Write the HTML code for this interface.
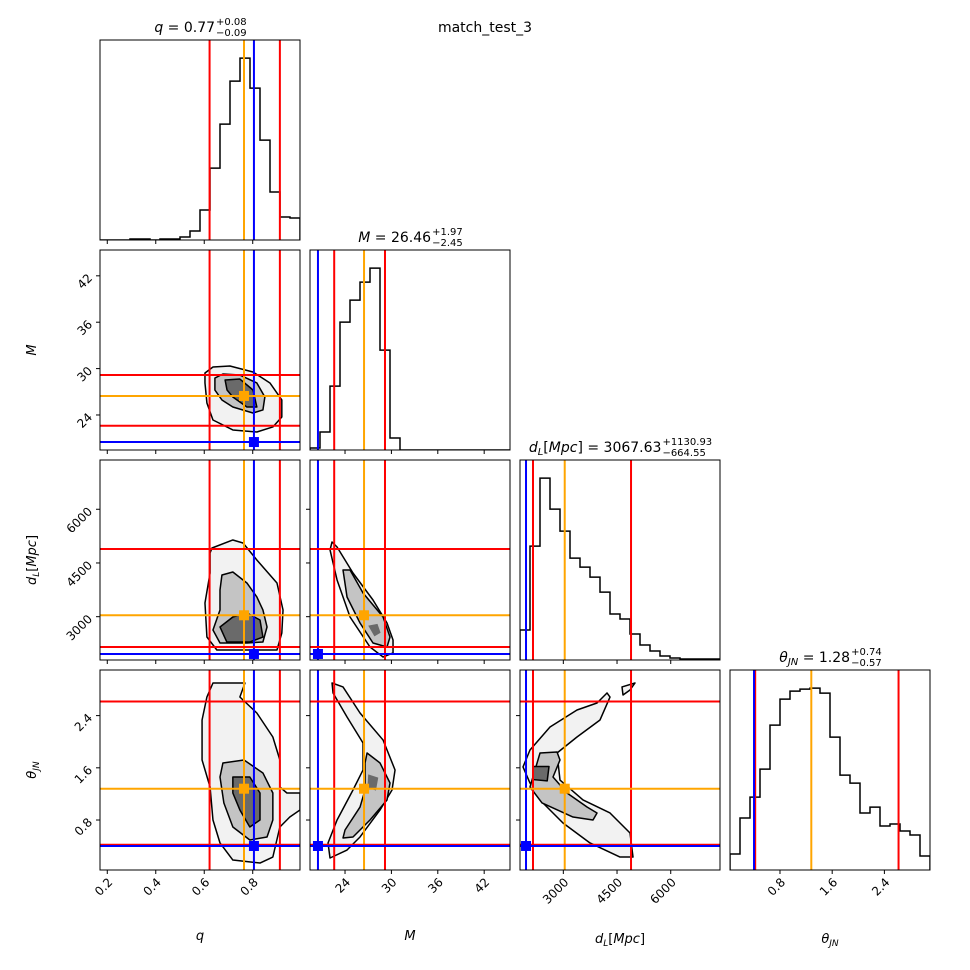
<!DOCTYPE html>
<html><head><meta charset="utf-8"><style>
body{margin:0;background:#fff}
svg{display:block;font-family:"DejaVu Sans","Liberation Sans",sans-serif}
</style></head><body>
<svg id="fig" width="970" height="970" viewBox="0 0 970 970" xmlns="http://www.w3.org/2000/svg"></svg>
<script>
// ---- data ----
const params = ["q","M","dL","th"];
const rangeQ = [0.170, 0.995];
const rangeM = [19.47, 45.34];
const rangeD = [1790, 7376];
const rangeT = [0.034, 3.099];
const histQ = [0,0,0,1,1,0,1,1,3,9,30,72,116,159,182,152,100,48,23,22];
const histM = [2,18,64,128,150,168,182,100,12,0,0,0,0,0,0,0,0,0,0,0];
const histD = [30,114,182,151,129,102,93,83,68,46,41,26,15,9,4,2,1,1,1,1];
const histT = [16,52,73,101,145,171,179,181,182,177,133,95,87,57,63,44,46,39,35,14];
const ticksQ = [0.2,0.4,0.6,0.8];
const ticksM = [24,30,36,42];
const ticksD = [3000,4500,6000];
const ticksT = [0.8,1.6,2.4];
const tickLabQ = ["0.2","0.4","0.6","0.8"];
const tickLabM = ["24","30","36","42"];
const tickLabD = ["3000","4500","6000"];
const tickLabT = ["0.8","1.6","2.4"];
const medians = [0.764, 26.46, 3039, 1.28];
const truths = [0.805, 20.5, 1958, 0.402];
const lowers = [0.622, 22.6, 2153, 0.42];
const uppers = [0.912, 29.17, 4891, 2.617];
// contours [x,y] in data units, per panel, outer -> inner
const contQM = [
 [[0.603,29.43],[0.636,30.21],[0.706,30.34],[0.801,29.56],[0.871,28.14],[0.920,25.94],[0.920,23.74],[0.883,22.45],[0.817,21.80],[0.718,22.06],[0.636,23.35],[0.611,25.55],[0.603,28.14]],
 [[0.644,28.78],[0.677,29.30],[0.747,29.17],[0.817,28.14],[0.850,26.33],[0.842,24.65],[0.801,24.26],[0.718,25.03],[0.673,25.94],[0.644,27.23]],
 [[0.686,28.53],[0.747,28.65],[0.801,27.23],[0.817,25.03],[0.776,25.03],[0.718,26.33],[0.694,27.23]]
];
const contQD = [
 [[0.632,4918],[0.718,5142],[0.760,5058],[0.817,4583],[0.900,3941],[0.925,3187],[0.920,2544],[0.900,2069],[0.830,2069],[0.652,2069],[0.611,2432],[0.603,3382],[0.624,4220],[0.624,4779]],
 [[0.673,4164],[0.718,4248],[0.776,3941],[0.817,3550],[0.842,3187],[0.859,2712],[0.842,2293],[0.776,2265],[0.665,2265],[0.636,2628],[0.665,3187],[0.665,3745]],
 [[0.665,2712],[0.718,2991],[0.776,3103],[0.830,2907],[0.842,2432],[0.788,2293],[0.693,2293]]
];
const contQT = [
 [[0.636,2.900],[0.768,2.900],[0.747,2.685],[0.817,2.440],[0.883,2.072],[0.912,1.720],[0.912,1.306],[0.941,1.214],[0.995,1.214],[0.995,0.954],[0.953,0.846],[0.912,0.693],[0.883,0.233],[0.830,0.141],[0.718,0.187],[0.665,0.448],[0.636,0.800],[0.624,1.306],[0.591,1.720],[0.591,2.333],[0.611,2.685]],
 [[0.677,1.674],[0.764,1.720],[0.842,1.521],[0.883,1.214],[0.883,0.800],[0.859,0.540],[0.788,0.494],[0.718,0.693],[0.681,1.061],[0.665,1.459]],
 [[0.718,1.459],[0.788,1.459],[0.830,1.214],[0.830,0.800],[0.788,0.693],[0.747,0.954],[0.718,1.214]]
];
const contMD = [
 [[22.32,5086],[22.97,4946],[25.03,4220],[27.62,3466],[29.43,2824],[30.21,2349],[30.21,1986],[28.92,1874],[27.23,2153],[24.65,2991],[22.97,4025],[22.06,4863]],
 [[23.74,4304],[24.65,4304],[26.33,3662],[28.92,2991],[29.82,2432],[29.43,2153],[27.62,2265],[25.94,2824],[24.26,3550]],
 [[27.0,2750],[28.2,2800],[28.6,2550],[27.8,2450]]
];
const contMT = [
 [[22.32,2.900],[23.74,2.839],[25.94,2.440],[28.92,2.026],[30.47,1.567],[30.08,1.260],[28.53,0.954],[25.94,0.540],[24.26,0.340],[22.06,0.218],[21.80,0.448],[22.97,0.800],[25.03,1.260],[26.33,1.567],[26.33,1.980],[24.26,2.379],[22.45,2.747]],
 [[26.85,1.827],[28.53,1.674],[29.82,1.367],[29.43,1.107],[27.23,0.800],[25.03,0.540],[23.74,0.525],[24.00,0.647],[25.94,0.999],[26.59,1.260],[26.59,1.674]],
 [[27.0,1.50],[28.3,1.45],[28.0,1.25],[26.9,1.30]]
];
const contDT = [
 [[2069,1.873],[2628,2.226],[3382,2.486],[3941,2.593],[4220,2.747],[4304,2.685],[4025,2.333],[3382,2.072],[2824,1.827],[2907,1.413],[3550,1.107],[4304,0.908],[4863,0.601],[4946,0.233],[4583,0.233],[3745,0.448],[2991,0.754],[2432,1.061],[2069,1.367],[1874,1.613]],
 [[2349,1.827],[2824,1.842],[2907,1.720],[2712,1.459],[3103,1.214],[3662,0.999],[3941,0.908],[3829,0.800],[3270,0.846],[2405,1.061],[2069,1.306]],
 [[2150,1.62],[2600,1.62],[2550,1.40],[2150,1.42]],
 [[4639,2.839],[5002,2.900],[4863,2.793],[4667,2.716]]
];
// ---- layout ----
const NS="http://www.w3.org/2000/svg";
const svg=document.getElementById('fig');
const L=[100,310,520,730], T=[40,250,460,670], S=200;
const ranges=[rangeQ,rangeM,rangeD,rangeT];
const hists=[histQ,histM,histD,histT];
const ticks=[ticksQ,ticksM,ticksD,ticksT];
const tlabs=[tickLabQ,tickLabM,tickLabD,tickLabT];
function sx(p,col,v){const r=ranges[p];return L[col]+(v-r[0])/(r[1]-r[0])*S;}
function sy(p,row,v){const r=ranges[p];return T[row]+S-(v-r[0])/(r[1]-r[0])*S;}
function mk(tag,attrs,parent){const e=document.createElementNS(NS,tag);for(const k in attrs)e.setAttribute(k,attrs[k]);(parent||svg).appendChild(e);return e;}
function clip(i,j){const c=mk('clipPath',{id:'c'+i+j});mk('rect',{x:L[j],y:T[i],width:S,height:S},c);return 'url(#c'+i+j+')';}

for(let i=0;i<4;i++){for(let j=0;j<=i;j++){
  const g=mk('g',{'clip-path':clip(i,j)});
  
  
  if(i===j){
    const h=hists[i], mx=Math.max(...h)*1.1, r=ranges[i], bw=(r[1]-r[0])/h.length;
    let d='M'+L[i]+','+(T[i]+S);
    h.forEach((c,k)=>{const x0=sx(i,i,r[0]+k*bw),x1=sx(i,i,r[0]+(k+1)*bw),y=T[i]+S-c/mx*S;d+=' L'+x0+','+y+' L'+x1+','+y;});
    d+=' L'+(L[i]+S)+','+(T[i]+S);
    const p=mk('path',{d:d,fill:'none',stroke:'#000','stroke-width':1.5},g);
    
    
    [[lowers[i],'#f00'],[uppers[i],'#f00'],[medians[i],'#ffa500'],[truths[i],'#00f']].forEach(a=>{
      const ln=mk('line',{x1:sx(i,i,a[0]),x2:sx(i,i,a[0]),y1:T[i],y2:T[i]+S,stroke:a[1],'stroke-width':2},g);
      
      
    });
  } else {
    const key=params[j]+params[i];
    const cs={qM:contQM,qdL:contQD,qth:contQT,MdL:contMD,Mth:contMT,dLth:contDT}[key];
    const fills=['#f2f2f2','#c4c4c4','#6a6a6a','#f2f2f2'];
    cs.forEach((poly,k)=>{
      const pts=poly.map(pt=>sx(j,j,pt[0])+','+sy(i,i,pt[1])).join(' ');
      const pg=mk('polygon',{points:pts,fill:fills[k],stroke:k===2&&poly.length<5&&key!=='dLth'?'none':'#000','stroke-width':1.5,'stroke-linejoin':'round'},g);
      
      
    });
    const lines=[[lowers[j],'#f00','v'],[uppers[j],'#f00','v'],[medians[j],'#ffa500','v'],[truths[j],'#00f','v'],
                 [lowers[i],'#f00','h'],[uppers[i],'#f00','h'],[medians[i],'#ffa500','h'],[truths[i],'#00f','h']];
    lines.forEach(a=>{
      let ln;
      if(a[2]==='v'){const x=sx(j,j,a[0]);ln=mk('line',{x1:x,x2:x,y1:T[i],y2:T[i]+S,stroke:a[1],'stroke-width':2},g);}
      else {const y=sy(i,i,a[0]);ln=mk('line',{x1:L[j],x2:L[j]+S,y1:y,y2:y,stroke:a[1],'stroke-width':2},g);}
      
      
    });
    [[medians,'#ffa500'],[truths,'#00f']].forEach(a=>{
      const x=sx(j,j,a[0][j]),y=sy(i,i,a[0][i]);
      const sq=mk('rect',{x:x-5,y:y-5,width:10,height:10,fill:a[1]},g);
      
      
    });
  }
  const fr=mk('rect',{x:L[j],y:T[i],width:S,height:S,fill:'none',stroke:'#000','stroke-width':1});
  
  
  ticks[j].forEach((v,k)=>{
    const x=sx(j,j,v);
    mk('line',{x1:x,x2:x,y1:T[i]+S,y2:T[i]+S+4,stroke:'#000','stroke-width':1});
    if(i===3){const t=mk('text',{x:x+6,y:T[i]+S+13,'font-size':12,'text-anchor':'end',transform:'rotate(-45 '+(x+6)+' '+(T[i]+S+13)+')'});
      t.textContent=tlabs[j][k];
      
      }
  });
  if(j<i){ticks[i].forEach((v,k)=>{
    const y=sy(i,i,v);
    mk('line',{x1:L[j]-4,x2:L[j],y1:y,y2:y,stroke:'#000','stroke-width':1});
    if(j===0){const t=mk('text',{x:93,y:y+3,'font-size':12,'text-anchor':'end',transform:'rotate(-45 93 '+(y+3)+')'});
      t.textContent=tlabs[i][k];
      
      }
  });}
}}

// titles with stacked sup/sub
const titleDefs=[
 {cx:200,y:32,html:'<tspan font-style="italic">q</tspan> = 0.77',sup:'+0.08',sub:'−0.09',name:'title-q'},
 {cx:410,y:242,html:'<tspan font-style="italic">M</tspan> = 26.46',sup:'+1.97',sub:'−2.45',name:'title-M'},
 {cx:620,y:452,html:'<tspan font-style="italic">d</tspan><tspan font-size="10" font-style="italic" dy="3">L</tspan><tspan dy="-3">[</tspan><tspan font-style="italic">Mpc</tspan>] = 3067.63',sup:'+1130.93',sub:'−664.55',name:'title-dL'},
 {cx:830,y:662,html:'<tspan font-style="italic">θ</tspan><tspan font-size="10" font-style="italic" dy="3">JN</tspan><tspan dy="-3"> = 1.28</tspan>',sup:'+0.74',sub:'−0.57',name:'title-theta'}
];
titleDefs.forEach(td=>{
  const g=mk('g',{});
  
  
  const m=mk('text',{x:0,y:td.y,'font-size':14},g); m.innerHTML=td.html;
  const sp=mk('text',{x:0,y:td.y-7,'font-size':10},g); sp.textContent=td.sup;
  const sb=mk('text',{x:0,y:td.y+4,'font-size':10},g); sb.textContent=td.sub;
  const wm=m.getComputedTextLength(), ws=Math.max(sp.getComputedTextLength(),sb.getComputedTextLength());
  const x0=td.cx-(wm+ws)/2;
  m.setAttribute('x',x0); sp.setAttribute('x',x0+wm+1); sb.setAttribute('x',x0+wm+1);
});
</script>
<svg style="position:absolute;left:0;top:0" width="970" height="970" font-family="DejaVu Sans, Liberation Sans, sans-serif">
 <text x="485" y="32" font-size="14" text-anchor="middle">match_test_3</text>
 <text x="200" y="940" font-size="13" font-style="italic" text-anchor="middle">q</text>
 <text x="410" y="940" font-size="13" font-style="italic" text-anchor="middle">M</text>
 <text x="620" y="943" font-size="13" text-anchor="middle"><tspan font-style="italic">d</tspan><tspan font-size="9" font-style="italic" dy="3">L</tspan><tspan dy="-3">[<tspan font-style="italic">Mpc</tspan>]</tspan></text>
 <text x="830" y="943" font-size="13" text-anchor="middle"><tspan font-style="italic">θ</tspan><tspan font-size="9" font-style="italic" dy="3">JN</tspan></text>
 <text x="36" y="350" font-size="13" font-style="italic" text-anchor="middle" transform="rotate(-90 36 350)">M</text>
 <text x="36" y="560" font-size="13" text-anchor="middle" transform="rotate(-90 36 560)"><tspan font-style="italic">d</tspan><tspan font-size="9" font-style="italic" dy="3">L</tspan><tspan dy="-3">[<tspan font-style="italic">Mpc</tspan>]</tspan></text>
 <text x="36" y="770" font-size="13" text-anchor="middle" transform="rotate(-90 36 770)"><tspan font-style="italic">θ</tspan><tspan font-size="9" font-style="italic" dy="3">JN</tspan></text>
</svg>
</body></html>
